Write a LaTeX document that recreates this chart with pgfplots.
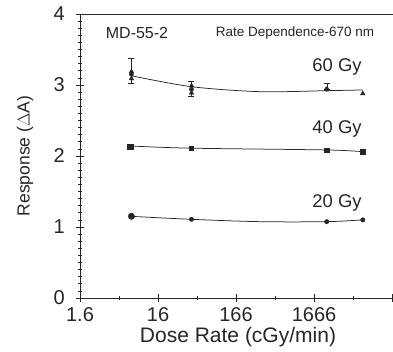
\documentclass[border=0pt]{standalone}
\usepackage{fontspec}
\setmainfont{Liberation Sans}
\usepackage{pgfplots}
\pgfplotsset{compat=1.18}
\definecolor{ink}{HTML}{262626}
\begin{document}
\begin{tikzpicture}
\useasboundingbox (0pt,0pt) rectangle (393pt,352pt);
\clip (0pt,0pt) rectangle (393pt,352pt);
\begin{axis}[
  at={(80pt,54pt)}, anchor=south west,
  scale only axis, width=320pt, height=284pt,
  xmode=log, xmin=1.6, xmax=20261,
  ymin=0, ymax=4,
  xtick={1.6,16,160,1600,16000},
  xticklabels={1.6,16,166,1666,},
  minor xtick={5.06,50.6,506,5060},
  ytick={0,1,2,3,4},
  yticklabels={0,1,2,3,4},
  minor y tick num=9,
  tick pos=left,
  tick align=center,
  major tick length=8pt,
  minor tick length=4pt,
  every tick/.style={ink, line width=0.6pt},
  axis line style={ink, line width=0.8pt},
  tick label style={font=\fontsize{20}{20}\selectfont, text=ink, inner sep=0pt},
  yticklabel style={xshift=-11pt},
  xticklabel style={yshift=-5pt},
  clip=false,
]
% 60 Gy fitted curve
\addplot[ink, line width=0.75pt, smooth] coordinates {(7.3,3.13) (43,2.976) (325,2.906) (2327,2.92) (6750,2.93)};
% 40 Gy line
\addplot[ink, line width=0.75pt, smooth] coordinates {(7.3,2.14) (43,2.11) (2327,2.085) (6750,2.06)};
% 20 Gy fitted curve
\addplot[ink, line width=0.75pt, smooth] coordinates {(7.3,1.15) (43,1.108) (325,1.075) (2327,1.075) (6750,1.10)};
% 60 Gy error bars
\addplot[ink, line width=0.6pt, only marks, mark=none,
  error bars/.cd, y dir=both, y explicit,
  error mark options={rotate=90, mark size=3pt, line width=0.6pt, ink}]
  coordinates {(7.3,3.15) += (0,0.23) -= (0,0.13)
               (43,2.94) += (0,0.11) -= (0,0.10)
               (2327,2.94) += (0,0.08) -= (0,0.0)};
% 60 Gy markers
\addplot[only marks, mark=triangle*, mark size=2.6pt, ink, mark options={fill=ink}]
  coordinates {(7.3,3.19) (7.3,3.09) (43,2.99) (43,2.89) (2327,2.94) (6750,2.88)};
% 40 Gy markers
\addplot[only marks, mark=square*, mark size=2.2pt, ink, mark options={fill=ink}]
  coordinates {(7.3,2.14) (43,2.11) (2327,2.085) (6750,2.06)};
\addplot[only marks, mark=square*, mark size=2.8pt, ink, mark options={fill=ink}]
  coordinates {(7.1,2.13)};
% 20 Gy markers
\addplot[only marks, mark=*, mark size=2.2pt, ink, mark options={fill=ink}]
  coordinates {(7.3,1.16) (43,1.108) (2327,1.075) (6750,1.10)};
\addplot[only marks, mark=*, mark size=3.2pt, ink, mark options={fill=ink}]
  coordinates {(7.3,1.15)};
\end{axis}
\node[text=ink, font=\fontsize{21}{21}\selectfont] at (238pt,14.5pt) {Dose Rate (cGy/min)};
\node[text=ink, font=\fontsize{17.5}{17.5}\selectfont, rotate=90] at (25pt,196pt) {Response ($\Delta$A)};
\node[text=ink, font=\fontsize{16}{16}\selectfont] at (137pt,319pt) {MD-55-2};
\node[text=ink, font=\fontsize{13.5}{13.5}\selectfont] at (295pt,319pt) {Rate Dependence-670 nm};
\node[text=ink, font=\fontsize{18.4}{18.4}\selectfont] at (337pt,285pt) {60 Gy};
\node[text=ink, font=\fontsize{18.4}{18.4}\selectfont] at (337pt,223pt) {40 Gy};
\node[text=ink, font=\fontsize{18.4}{18.4}\selectfont] at (337pt,149pt) {20 Gy};
\end{tikzpicture}
\end{document}
